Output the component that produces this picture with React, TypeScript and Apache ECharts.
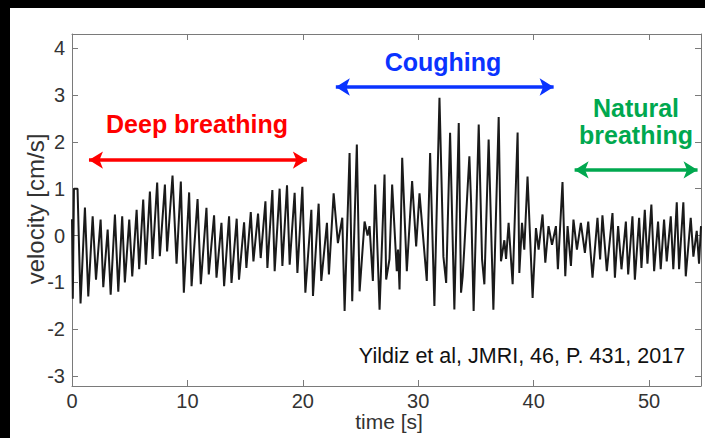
import React, { useEffect, useRef } from "react";
import * as echarts from "echarts";

// time [s] and velocity [cm/s] (peaks / troughs)
const deepTime = [0.0, 0.07, 0.17, 0.48, 0.74, 1.12, 1.41, 1.79, 2.08, 2.48, 2.71, 3.09, 3.35, 3.72, 4.01, 4.35, 4.58, 4.96, 5.22, 5.6, 5.82, 6.17, 6.4, 6.75, 6.98, 7.38, 7.61, 8.05, 8.24, 8.71, 9.06, 9.43, 9.69, 10.15, 10.36, 10.88, 11.16, 11.65, 11.85, 12.31, 12.52, 12.95, 13.18, 13.61, 13.82, 14.27, 14.47, 14.91, 15.11, 15.49, 15.72, 16.12, 16.35, 16.76, 16.93, 17.36, 17.56, 17.99, 18.23, 18.63, 18.86, 19.29, 19.53, 19.96, 20.22, 20.74, 20.88, 21.37, 21.6];
const deepVel = [0.35, -1.35, 1.0, 1.0, -1.45, 0.6, -1.3, 0.41, -0.94, 0.34, -1.1, 0.13, -1.26, 0.45, -1.2, 0.41, -1.0, 0.34, -0.87, 0.55, -0.72, 0.77, -0.62, 0.94, -0.5, 1.13, -0.44, 1.09, -0.34, 1.28, -0.6, 1.15, -1.22, 0.92, -1.08, 0.78, -1.04, 0.59, -0.83, 0.43, -0.9, 0.27, -1.08, 0.41, -1.01, 0.36, -0.94, 0.28, -0.69, 0.5, -0.55, 0.47, -0.48, 0.73, -0.69, 0.97, -0.76, 1.0, -0.65, 1.07, -0.62, 0.91, -0.8, 1.04, -1.22, 0.55, -1.29, 0.68, -0.97];

const coughTime = [22.09, 22.26, 22.67, 23.04, 23.42, 23.62, 24.05, 24.28, 24.68, 24.92, 25.35, 25.61, 25.78, 26.07, 26.27, 26.65, 27.08, 27.22, 27.51, 27.74, 28.14, 28.25, 28.38, 28.61, 29.01, 29.47, 29.82, 30.11, 30.74, 31.03, 31.4, 31.84, 32.18, 32.42, 32.76, 33.13, 33.51, 33.71, 33.85, 34.0, 34.43, 34.58, 34.8, 35.24, 35.53, 35.73, 36.1, 36.51, 36.97, 37.17, 37.46, 37.61, 37.83, 38.18, 38.61, 38.76, 38.99, 39.19, 39.47, 39.91, 40.2, 40.43, 40.77, 41.01, 41.29, 41.59, 41.93, 42.1, 42.5, 42.74];
const coughVel = [0.27, -0.83, 0.9, -0.16, 0.38, -1.61, 1.76, -1.4, 1.94, -1.19, 0.3, 0.0, 0.2, -0.97, 1.09, -1.58, 1.3, -0.94, -0.5, 1.09, -0.76, -0.3, -1.15, 1.66, -0.76, 1.16, -0.23, 0.9, -0.97, 1.76, -1.5, 2.94, -0.45, -1.01, 2.19, -1.58, 2.4, -1.22, -0.87, -0.23, 1.69, 0.7, -1.61, 2.37, -0.51, -1.04, 2.05, -1.58, 2.53, -0.55, -0.1, -0.5, 0.27, -1.04, 2.2, -0.8, 0.27, -0.3, 1.26, -1.33, 0.16, -0.3, 0.45, -0.58, 0.2, -0.2, 0.2, -0.72, 1.14, -0.87];

const naturalTime = [42.94, 43.23, 43.45, 43.75, 44.09, 44.44, 44.73, 45.1, 45.53, 45.76, 45.96, 46.34, 46.83, 47.04, 47.32, 47.61, 47.99, 48.19, 48.56, 48.77, 49.14, 49.34, 49.63, 49.86, 50.2, 50.44, 50.78, 51.01, 51.3, 51.53, 51.88, 52.1, 52.4, 52.6, 52.97, 53.18, 53.61, 53.84, 54.13, 54.33, 54.5];
const naturalVel = [0.2, -0.65, 0.34, -0.3, 0.27, -0.37, 0.3, -0.9, 0.38, -0.51, 0.43, -0.76, 0.48, -0.9, 0.2, -0.72, 0.3, -0.83, 0.41, -0.94, 0.38, -0.69, 0.55, -0.6, 0.66, -0.76, 0.3, -0.72, 0.34, -0.55, 0.41, -0.72, 0.71, -0.72, 0.71, -0.87, 0.38, -0.45, 0.1, -0.6, 0.2];

const xTicks = [0, 10, 20, 30, 40, 50];
const yTicks = [-3, -2, -1, 0, 1, 2, 3, 4];

// annotation arrows: [tStart, tEnd, velocity level]
const deepArrow = [1.47, 20.35, 1.61];
const coughArrow = [22.86, 41.73, 3.17];
const naturalArrow = [43.55, 54.2, 1.4];

const FONT = "Liberation Sans, Arial, Helvetica, sans-serif";
const AXIS_COLOR = "#7a7a7a";

function arrowSeries(name: string, arrow: number[], color: string) {
  return {
    name,
    type: "line",
    data: [],
    silent: true,
    markLine: {
      silent: true,
      symbol: ["arrow", "arrow"],
      symbolSize: [13, 14],
      label: { show: false },
      emphasis: { disabled: true },
      lineStyle: { color, width: 3.5, type: "solid" },
      data: [[{ coord: [arrow[0], arrow[2]] }, { coord: [arrow[1], arrow[2]] }]],
    },
  };
}

export default function App() {
  const ref = useRef<HTMLDivElement>(null);
  useEffect(() => {
    if (!ref.current) return;
    const chart = echarts.init(ref.current, null, { renderer: "svg" });
    const signal: number[][] = [];
    [
      [deepTime, deepVel],
      [coughTime, coughVel],
      [naturalTime, naturalVel],
    ].forEach(([ts, vs]) => ts.forEach((t, i) => signal.push([t, vs[i]])));

    const xBase = {
      type: "value",
      min: 0,
      max: 54.5,
      splitLine: { show: false },
      axisLine: { show: true, onZero: false, lineStyle: { color: AXIS_COLOR, width: 1 } },
      axisTick: { show: true, inside: true, length: 6, customValues: xTicks, lineStyle: { color: AXIS_COLOR } },
    };
    const yBase = {
      type: "value",
      min: -3.21,
      max: 4.3,
      splitLine: { show: false },
      axisLine: { show: true, onZero: false, lineStyle: { color: AXIS_COLOR, width: 1 } },
      axisTick: { show: true, inside: true, length: 6, customValues: yTicks, lineStyle: { color: AXIS_COLOR } },
    };

    chart.setOption({
      animation: false,
      backgroundColor: "#ffffff",
      grid: { left: 62, top: 26, right: 4, bottom: 52, containLabel: false, outerBoundsMode: "none" },
      xAxis: [
        {
          ...xBase,
          position: "bottom",
          axisLabel: { customValues: xTicks, fontSize: 20, lineHeight: 20, color: "#333", fontFamily: FONT, margin: 5 },
        },
        { ...xBase, position: "top", axisLabel: { show: false } },
      ],
      yAxis: [
        {
          ...yBase,
          position: "left",
          axisLabel: { customValues: yTicks, fontSize: 20, color: "#333", fontFamily: FONT, margin: 7 },
        },
        { ...yBase, position: "right", axisLabel: { show: false } },
      ],
      series: [
        {
          name: "velocity",
          type: "line",
          data: signal,
          showSymbol: false,
          smooth: false,
          silent: true,
          lineStyle: { color: "#1a1a1a", width: 2 },
        },
        arrowSeries("Deep breathing", deepArrow, "#ff0000"),
        arrowSeries("Coughing", coughArrow, "#0a33ff"),
        arrowSeries("Natural breathing", naturalArrow, "#00a84f"),
      ],
      graphic: [
        {
          type: "text",
          x: 379,
          y: 413,
          style: { text: "time [s]", fill: "#333", font: `21px ${FONT}`, align: "center", verticalAlign: "middle" },
        },
        {
          type: "text",
          x: 25,
          y: 201,
          rotation: Math.PI / 2,
          style: { text: "velocity [cm/s]", fill: "#333", font: `24px ${FONT}`, align: "center", verticalAlign: "middle" },
        },
        {
          type: "text",
          x: 187,
          y: 116,
          style: { text: "Deep breathing", fill: "#ff0000", font: `bold 25px ${FONT}`, align: "center", verticalAlign: "middle" },
        },
        {
          type: "text",
          x: 433,
          y: 54,
          style: { text: "Coughing", fill: "#0a33ff", font: `bold 25px ${FONT}`, align: "center", verticalAlign: "middle" },
        },
        {
          type: "text",
          x: 626,
          y: 100,
          style: { text: "Natural", fill: "#00a84f", font: `bold 25px ${FONT}`, align: "center", verticalAlign: "middle" },
        },
        {
          type: "text",
          x: 626,
          y: 127,
          style: { text: "breathing", fill: "#00a84f", font: `bold 25px ${FONT}`, align: "center", verticalAlign: "middle" },
        },
        {
          type: "text",
          x: 512,
          y: 348,
          style: { text: "Yildiz et al, JMRI, 46, P. 431, 2017", fill: "#111", font: `21.5px ${FONT}`, align: "center", verticalAlign: "middle" },
        },
      ],
    });
    return () => chart.dispose();
  }, []);

  return (
    <div style={{ position: "fixed", left: 0, top: 0, width: 705, height: 438, background: "#000" }}>
      <div style={{ position: "absolute", left: 10, top: 8, width: 695, height: 430, background: "#fff" }}>
        <div ref={ref} style={{ width: 695, height: 430 }} />
      </div>
    </div>
  );
}
